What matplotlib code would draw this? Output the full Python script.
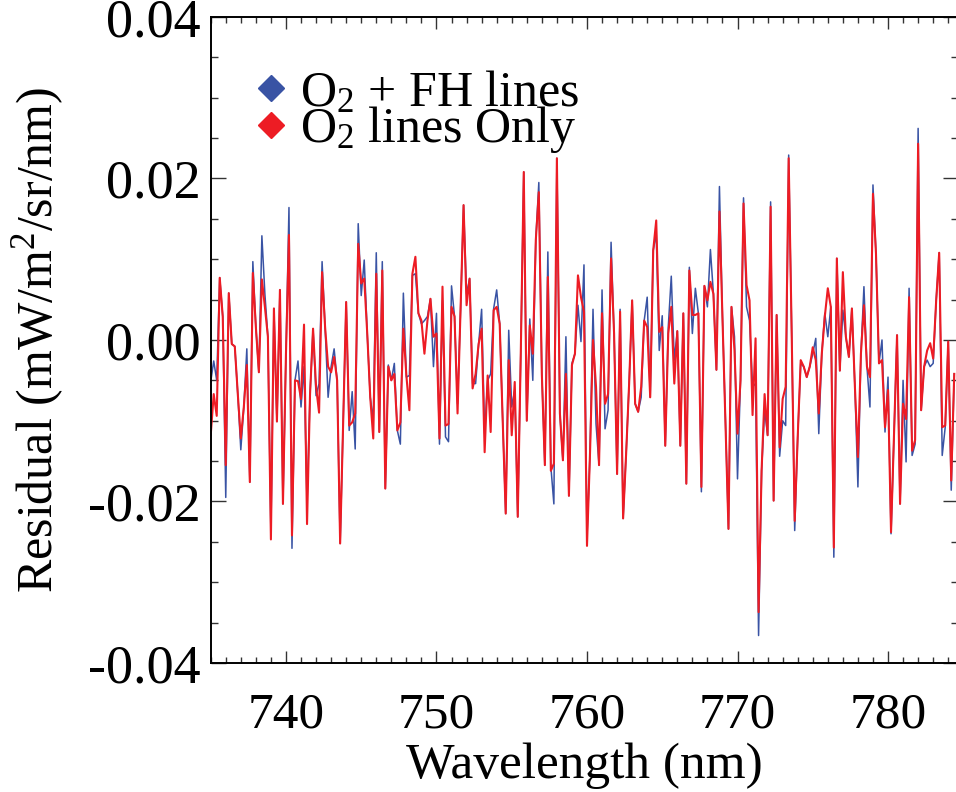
import numpy as np
import matplotlib
matplotlib.use('Agg')
import matplotlib.pyplot as plt
from matplotlib.lines import Line2D
from matplotlib.ticker import MultipleLocator, FormatStrFormatter

plt.rcParams['font.family'] = 'Liberation Serif'
plt.rcParams['mathtext.fontset'] = 'custom'
plt.rcParams['mathtext.rm'] = 'Liberation Serif'
plt.rcParams['mathtext.it'] = 'Liberation Serif:italic'
plt.rcParams['axes.unicode_minus'] = False

# wavelength grid (nm): uniform sampling
wl_start = 735.0
wl_step = 0.2

# residuals, in units of 1e-3 mW/m2/sr/nm
resid_o2_fh = [
    -5.2, -2.6, -5.0, 7.7, 2.9, -19.5, 5.8, -0.5, -0.8, -6.7,
    -13.6, -8.3, -1.1, -17.6, 9.7, 1.6, -4.0, 12.9, 5.7, 0.4,
    -24.0, 3.9, -10.1, 6.2, -20.3, -1.7, 16.4, -25.8, -5.0, -2.6,
    -8.3, -3.3, -20.3, -6.7, 1.4, -6.9, -5.4, 9.7, 1.6, -7.1,
    -3.3, -1.1, -5.0, -25.2, -10.0, 4.7, -11.2, -6.4, -13.5, 14.4,
    5.5, 9.9, 0.8, -7.1, -10.0, 10.8, -11.4, 9.7, -18.4, -3.1,
    -5.0, -2.9, -11.2, -12.9, 5.8, -4.6, -4.4, 8.0, 8.2, 3.3,
    2.0, 2.4, 2.9, 5.1, -3.3, 3.3, -12.9, 4.9, -12.0, -12.6,
    6.7, 2.9, -7.9, 3.7, 16.7, 5.7, 7.6, -5.4, -5.4, -0.5,
    3.8, -11.6, -5.0, -4.2, 3.9, 6.2, 2.0, -10.0, -21.5, 1.2,
    -8.3, -6.2, -21.9, -1.7, 20.8, -10.0, 2.6, -5.0, 12.4, 19.5,
    -4.2, -15.5, 10.9, -15.7, -20.3, 22.5, -9.1, -14.9, 0.4, -19.3,
    -2.9, -1.7, 4.3, -0.2, 9.3, -24.4, -14.1, 3.8, -10.4, -15.5,
    6.2, -11.0, -8.7, 12.1, 0.8, -16.6, 3.8, -22.1, -14.1, -5.4,
    4.9, -7.9, -8.9, -7.1, 2.4, 5.3, -7.1, 11.1, 13.2, -1.3,
    3.0, -13.1, 1.6, 7.9, -2.5, 1.1, -13.1, 3.3, -17.8, 9.0,
    0.8, 6.4, 3.3, -18.8, 6.7, 4.1, 11.2, 5.7, -3.7, 19.0,
    2.9, -10.0, -23.4, 4.1, 0.4, -17.2, -5.0, 17.6, 4.1, 2.4,
    -5.8, -5.4, -36.6, -16.2, -8.7, -11.8, 17.1, -19.9, 3.1, -14.4,
    -10.0, -10.6, 22.9, 0.8, -23.6, -12.0, -2.9, -3.3, -4.6, -3.3,
    -1.7, 0.2, -11.6, -1.7, 3.3, 0.4, 4.1, -26.9, 10.1, -3.8,
    3.7, 0.4, -2.1, 3.9, -5.8, -18.2, -1.7, 6.6, -3.3, -8.3,
    19.2, 10.7, -2.9, 0.0, -11.4, -4.6, -24.0, -11.6, 0.6, -20.3,
    -5.0, -15.1, 6.4, -14.3, -12.9, 26.2, -8.7, -3.3, -2.5, -3.3,
    -2.9, 4.9, 10.8, -14.3, -10.8, -0.2, -18.6, -4.2,
]

resid_o2_only = [
    -11.8, -6.7, -9.4, 7.7, 2.9, -15.5, 5.8, -0.5, -0.8, -6.7,
    -12.2, -8.3, -3.1, -17.6, 8.3, 1.6, -4.0, 7.5, 4.1, 0.4,
    -24.7, 3.9, -10.1, 6.2, -20.3, -1.7, 13.0, -24.2, -5.0, -5.1,
    -7.3, 1.9, -22.8, -6.7, 1.4, -5.8, -9.0, 8.4, 1.6, -3.3,
    -4.0, -2.1, -5.0, -25.2, -10.0, 4.7, -10.6, -10.2, -9.1, 11.9,
    7.0, 7.6, 0.8, -7.1, -12.2, 8.2, -11.4, 8.6, -18.4, -3.3,
    -5.0, -4.2, -11.2, -10.2, 1.4, -4.4, -8.7, 8.2, 10.3, 3.3,
    2.4, -1.7, 2.4, 5.1, 0.4, 0.8, -12.2, 6.6, -10.6, -10.4,
    4.1, 2.9, -9.1, 3.7, 16.7, 4.3, 7.6, -6.0, -4.2, -0.5,
    1.4, -13.9, -4.4, -11.4, 3.7, 4.1, 2.0, -10.0, -21.5, -2.5,
    -11.8, -5.2, -21.9, -1.7, 20.8, -10.0, 1.8, -1.7, 12.4, 18.3,
    -4.2, -15.5, 7.8, -16.2, -15.3, 22.5, -9.1, -14.9, -4.2, -19.3,
    -3.1, -1.7, 8.0, 5.3, 3.5, -25.5, -14.1, 0.0, -5.8, -15.5,
    3.3, -7.9, -6.7, 10.1, 0.8, -16.6, 3.5, -22.1, -14.1, -5.4,
    4.9, -7.9, -8.9, -5.8, 2.4, 1.6, -7.1, 11.1, 14.8, 1.0,
    1.6, -13.1, 0.8, 4.1, -5.4, 1.1, -13.1, 3.3, -17.8, 8.6,
    3.1, 3.1, 3.3, -18.2, 6.7, 4.9, 7.2, 5.7, -3.7, 15.9,
    2.9, -10.0, -23.4, 4.1, -1.3, -11.6, -5.0, 16.9, 6.8, 4.9,
    -9.3, 0.2, -33.7, -16.2, -6.7, -11.8, 16.5, -19.9, 3.1, -13.3,
    -7.3, -5.8, 22.5, 0.8, -22.4, -12.0, -2.5, -3.3, -4.6, -3.3,
    -0.9, -2.5, -9.1, -1.7, 2.9, 6.4, 4.1, -25.7, 10.1, -3.8,
    8.4, 0.4, -2.1, 3.9, -5.8, -14.5, -1.7, 4.3, -3.3, -4.6,
    18.1, 10.7, -2.9, -2.5, -10.8, -6.2, -23.8, -11.6, 0.6, -20.3,
    -7.9, -9.8, 5.3, -13.7, -12.4, 24.3, -8.7, -3.3, -1.3, -0.4,
    -2.3, 4.9, 10.8, -10.8, -10.6, -0.2, -17.4, -4.2,
]

labels = [r'O$_\mathrm{2}$ + FH lines', r'O$_\mathrm{2}$ lines Only']
blue = '#3953a4'
red = '#ed1c24'

wl = wl_start + wl_step * np.arange(len(resid_o2_fh))
y_fh = np.array(resid_o2_fh) * 1e-3
y_o2 = np.array(resid_o2_only) * 1e-3

fig = plt.figure(figsize=(9.56, 7.92), dpi=100)
# right frame edge sits just past the picture's right border, as in the original
ax = fig.add_axes([0.2204, 0.1629, 0.7817, 0.8157])

ax.plot(wl, y_fh, color=blue, lw=1.1)
ax.plot(wl, y_o2, color=red, lw=1.5)

ax.set_xlim(735, 784.65)
ax.set_ylim(-0.04, 0.04)

ax.xaxis.set_major_locator(MultipleLocator(10))
ax.xaxis.set_minor_locator(MultipleLocator(1))
ax.yaxis.set_major_locator(MultipleLocator(0.02))
ax.yaxis.set_minor_locator(MultipleLocator(0.005))
ax.yaxis.set_major_formatter(FormatStrFormatter('%.2f'))

ax.tick_params(which='both', direction='in', top=True, right=True,
               width=1.0, color='#333333')
ax.tick_params(axis='x', which='major', length=8.6, pad=21, labelsize=37)
ax.tick_params(axis='x', which='minor', length=4.3)
ax.tick_params(axis='y', which='major', length=10.8, pad=7, labelsize=39)
ax.tick_params(axis='y', which='minor', length=5)
for s in ax.spines.values():
    s.set_linewidth(1.4)

ax.set_xlabel('Wavelength (nm)', fontsize=37, labelpad=3)
ax.set_ylabel('Residual (mW/m$^\\mathrm{2}$/sr/nm)', fontsize=36)
ax.yaxis.set_label_coords(-0.194, 0.5)

handles = [Line2D([], [], ls='none', marker='D', ms=13, color=blue),
           Line2D([], [], ls='none', marker='D', ms=13, color=red)]
ax.legend(handles, labels, loc='upper left', bbox_to_anchor=(257 / 956, 1 - 70 / 792),
          bbox_transform=fig.transFigure, frameon=False, fontsize=36,
          handlelength=0.55, handletextpad=0.3, labelspacing=-0.25,
          borderpad=0, borderaxespad=0)

fig.savefig('out.png', dpi=100)
